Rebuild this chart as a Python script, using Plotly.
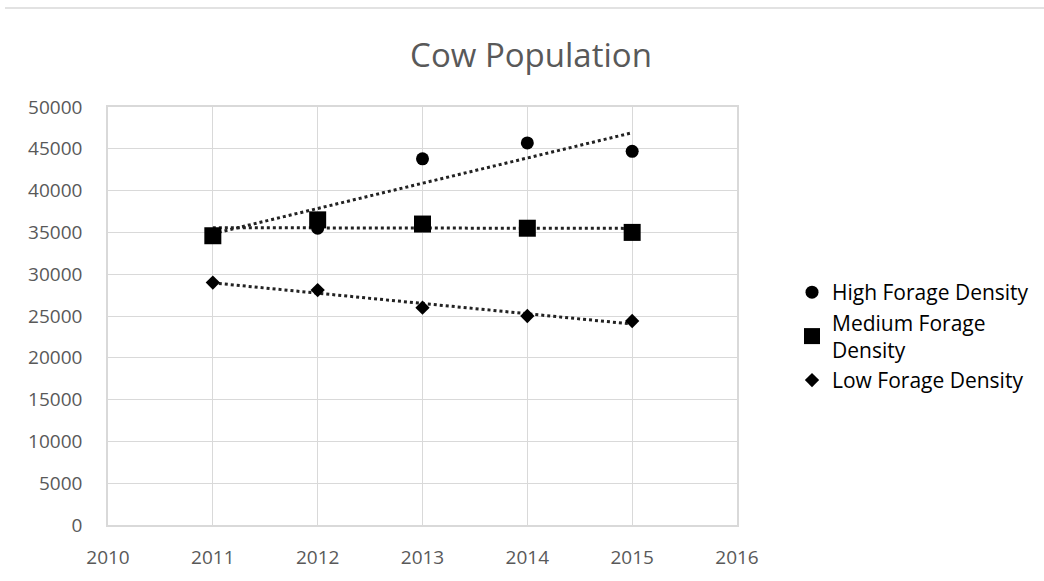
import numpy as np
import plotly.graph_objects as go

years = [2011, 2012, 2013, 2014, 2015]
high = [34700, 35500, 43800, 45700, 44700]
medium = [34600, 36500, 36000, 35500, 35000]
low = [29000, 28100, 26000, 25000, 24400]
names = ["High Forage Density", "Medium Forage<br>Density", "Low Forage Density"]
symbols = ["circle", "square", "diamond"]
sizes = [13, 17, 11]

fig = go.Figure()
series = [high, medium, low]
# trendlines (linear fit)
for vals in series:
    c = np.polyfit(years, vals, 1)
    xs = [years[0], years[-1]]
    ys = [c[0] * x + c[1] for x in xs]
    fig.add_trace(go.Scatter(x=xs, y=ys, mode="lines", showlegend=False,
                             line=dict(color="#222222", width=3, dash="dot"),
                             hoverinfo="skip"))
for vals, nm, sym, sz in zip(series, names, symbols, sizes):
    fig.add_trace(go.Scatter(x=years, y=vals, mode="markers", name=nm,
                             marker=dict(symbol=sym, size=sz, color="black")))

grid = "#d9d9d9"
tickfont = dict(family="Open Sans", size=19, color="#595959")
fig.update_layout(
    width=1044, height=581,
    paper_bgcolor="white", plot_bgcolor="white",
    margin=dict(l=108, r=307, t=107, b=56, autoexpand=False),
    title=dict(text="Cow Population", x=531 / 1044, xanchor="center",
               y=1 - 55 / 581, yanchor="middle",
               font=dict(family="Open Sans", size=33, color="#595959")),
    xaxis=dict(range=[2010, 2016], dtick=1, tick0=2010, showgrid=True,
               gridcolor=grid, gridwidth=1, zeroline=False,
               showline=True, linecolor=grid, linewidth=1.5, mirror=True,
               ticks="", ticklabelstandoff=14, tickfont=tickfont),
    yaxis=dict(range=[0, 50000], dtick=5000, showgrid=True, tickformat="d",
               gridcolor=grid, gridwidth=1, zeroline=False,
               showline=True, linecolor=grid, linewidth=1.5, mirror=True,
               ticks="", ticklabelstandoff=20, tickfont=tickfont),
    legend=dict(x=(792 - 108) / 629, y=(525 - 272) / 418, xanchor="left",
                yanchor="top", font=dict(family="Open Sans", size=21, color="black"),
                tracegroupgap=0, itemsizing="trace", bgcolor="rgba(0,0,0,0)"),
    shapes=[dict(type="line", xref="paper", yref="paper",
                 x0=(5 - 108) / 629, x1=(1044 - 108) / 629,
                 y0=(525 - 8) / 418, y1=(525 - 8) / 418,
                 line=dict(color="#d9d9d9", width=1.5))],
)
fig.write_html("out.html")
